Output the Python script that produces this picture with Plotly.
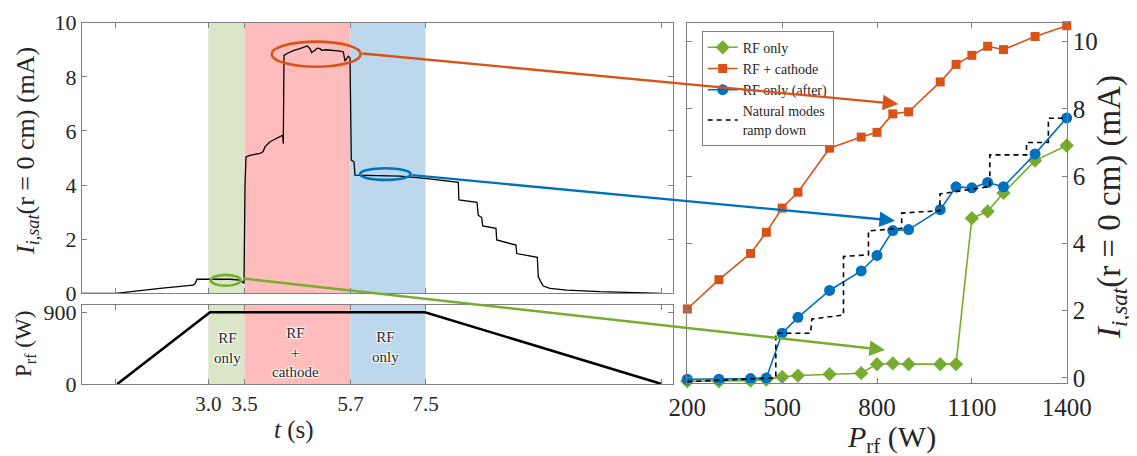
import plotly.graph_objects as go

# page body adds an 8px margin; figure is sized so that it fills the window exactly
OFF = 8
W, H = 1137 - OFF, 456 - OFF
FONT = "Liberation Serif"

# ---------------- left panels (time axis in sample units) ----------------
t_ticks = [33.7, 126.3, 162.5, 268.5, 343.5, 579.7]
t_ticklabels = ["", "3.0", "3.5", "5.7", "7.5", ""]

# shaded phases (start, end on time axis)
phase_start = [126.3, 162.5, 268.5]
phase_end = [162.5, 268.5, 343.5]
phase_color = ["#dbe6c8", "#ffbcbc", "#bdd8ec"]
phase_text = ["RF<br>only", "RF<br>+<br>cathode", "RF<br>only"]

# I_sat time trace (mA)
t_isat = [0, 33.7, 78, 111, 113, 115, 148, 158, 160, 162, 163, 164, 168, 178, 181, 182, 183,
          188, 198, 200.7, 201.3, 202, 206, 212, 218, 225.3, 228, 229.7, 233, 235.3, 238,
          239.7, 244, 251.3, 258, 261.3, 263, 264.7, 266.3, 268, 268.7, 269.3, 272, 273,
          318, 343, 376.3, 376.9, 395, 396.3, 399.7, 400.7, 414, 414.7, 434, 434.7, 455.3,
          456.3, 458.7, 461.3, 468, 484.7, 518, 579.7]
isat = [0.0, 0.0, 0.18, 0.3, 0.35, 0.52, 0.52, 0.49, 0.43, 0.37, 4.0, 5.04, 5.1, 5.17, 5.23,
        5.3, 5.41, 5.6, 5.78, 5.84, 5.53, 8.79, 8.88, 8.98, 9.04, 9.14, 9.04, 8.9, 8.98, 9.06,
        9.04, 8.98, 9.0, 8.98, 8.95, 8.92, 8.58, 8.67, 8.76, 8.7, 6.0, 4.92, 4.86, 4.37,
        4.33, 4.25, 4.1, 3.45, 3.36, 2.88, 2.8, 2.49, 2.4, 1.97, 1.78, 1.47, 1.33,
        0.61, 0.43, 0.27, 0.18, 0.12, 0.06, 0.0]

# RF power waveform (W)
t_prf = [35.3, 128, 343, 579.7]
prf = [0, 900, 900, 0]

# ---------------- right panel ----------------
P_rf_only = [200, 300, 400, 450, 500, 550, 650, 750, 800, 850, 900, 1000, 1050, 1100, 1150, 1200, 1300, 1400]
I_rf_only = [-0.1, -0.1, -0.08, -0.05, 0.03, 0.07, 0.11, 0.14, 0.41, 0.43, 0.41, 0.41, 0.41,
             4.75, 4.95, 5.5, 6.46, 6.91]
P_cath = [200, 300, 400, 450, 500, 550, 650, 750, 800, 850, 900, 1000, 1050, 1100, 1150, 1200, 1300, 1400]
I_cath = [2.05, 2.92, 3.7, 4.33, 5.05, 5.52, 6.83, 7.16, 7.3, 7.85, 7.91, 8.8, 9.32, 9.59,
          9.86, 9.76, 10.15, 10.47]
P_after = [200, 300, 400, 450, 500, 550, 650, 750, 800, 850, 900, 1000, 1050, 1100, 1150, 1200, 1300, 1400]
I_after = [-0.04, -0.04, -0.02, 0.0, 1.33, 1.8, 2.6, 3.18, 3.64, 4.38, 4.41, 5.0, 5.68, 5.65,
           5.81, 5.68, 6.66, 7.73]
P_nat = [200, 472, 480, 480, 590, 594, 694, 694, 773, 773, 878, 878, 999, 999, 1157, 1157,
         1273, 1273, 1342, 1342, 1400]
I_nat = [-0.11, -0.01, 0.0, 1.33, 1.33, 1.75, 1.87, 3.61, 3.66, 4.37, 4.45, 4.9, 4.97, 5.47,
         5.69, 6.63, 6.63, 7.0, 7.0, 7.72, 7.72]

GREEN, ORANGE, BLUE = "#77AC30", "#D95319", "#0072BD"
AX = "#808080"
TXT = "#262626"

fig = go.Figure()
fig.add_trace(go.Scatter(x=t_isat, y=isat, mode="lines", line=dict(color="black", width=1.3),
                         xaxis="x", yaxis="y", showlegend=False))
fig.add_trace(go.Scatter(x=t_prf, y=prf, mode="lines", line=dict(color="black", width=2.6),
                         xaxis="x2", yaxis="y2", showlegend=False))

fig.add_trace(go.Scatter(x=P_rf_only, y=I_rf_only, mode="lines+markers", name="RF only",
                         line=dict(color=GREEN, width=1.6),
                         marker=dict(symbol="diamond", size=11, color=GREEN),
                         xaxis="x3", yaxis="y3", cliponaxis=False))
fig.add_trace(go.Scatter(x=P_cath, y=I_cath, mode="lines+markers", name="RF + cathode",
                         line=dict(color=ORANGE, width=1.6),
                         marker=dict(symbol="square", size=9, color=ORANGE),
                         xaxis="x3", yaxis="y3", cliponaxis=False))
fig.add_trace(go.Scatter(x=P_after, y=I_after, mode="lines+markers", name="RF only (after)",
                         line=dict(color=BLUE, width=1.6),
                         marker=dict(symbol="circle", size=11, color=BLUE),
                         xaxis="x3", yaxis="y3", cliponaxis=False))
fig.add_trace(go.Scatter(x=P_nat, y=I_nat, mode="lines", name="Natural modes<br>ramp down",
                         line=dict(color="black", width=1.6, dash="5px,4px"),
                         xaxis="x3", yaxis="y3"))

def px_x(p):
    return (p - OFF) / W

def px_y(p):
    return 1 - (p - OFF) / H

tickfont_l = dict(family=FONT, size=22, color=TXT)
tickfont_r = dict(family=FONT, size=25, color=TXT)
common = dict(showgrid=False, zeroline=False, showline=True, linecolor=AX, linewidth=1,
              ticks="inside", ticklen=5, tickcolor=AX, mirror="ticks", automargin=False)

left_dom = [px_x(82), px_x(673)]
fig.update_layout(
    template="none",
    width=W, height=H, autosize=False,
    margin=dict(l=0, r=0, t=0, b=0, pad=0),
    paper_bgcolor="white", plot_bgcolor="white",
    font=dict(family=FONT, color=TXT),
    xaxis=dict(domain=left_dom, anchor="y", range=[0, 591], tickvals=t_ticks,
               showticklabels=False, **common),
    yaxis=dict(domain=[px_y(293.3), px_y(22.7)], anchor="x", range=[0, 10],
               tickvals=[0, 2, 4, 6, 8, 10], tickfont=tickfont_l, **common),
    xaxis2=dict(domain=left_dom, anchor="y2", range=[0, 591], tickvals=t_ticks,
                ticktext=t_ticklabels, tickfont=dict(family=FONT, size=21, color=TXT),
                ticklabelstandoff=1, **common),
    yaxis2=dict(domain=[px_y(384), px_y(305)], anchor="x2", range=[0, 991],
                tickvals=[0, 900], tickfont=tickfont_l, **common),
    xaxis3=dict(domain=[px_x(687.3), px_x(1066.7)], anchor="y3", range=[200, 1400],
                tickvals=[200, 500, 800, 1100, 1400], tickfont=tickfont_r,
                ticklabelstandoff=2, **common),
    yaxis3=dict(domain=[px_y(383.3), px_y(22.7)], anchor="x3", side="right",
                range=[-0.16, 10.56], tickvals=[0, 2, 4, 6, 8, 10], tickfont=tickfont_r,
                **common),
    legend=dict(x=px_x(701.7), y=px_y(30.7), xanchor="left", yanchor="top",
                bgcolor="white", bordercolor=AX, borderwidth=1,
                font=dict(family=FONT, size=14, color=TXT), tracegroupgap=0,
                itemwidth=30),
)

shapes = []
for s, e, c in zip(phase_start, phase_end, phase_color):
    for yr in ["y domain", "y2 domain"]:
        shapes.append(dict(type="rect", xref="x", yref=yr, x0=s, x1=e, y0=0, y1=1,
                           fillcolor=c, line=dict(width=0), layer="below"))
# highlight ellipses (time-axis units, mA)
shapes.append(dict(type="circle", xref="x", yref="y", x0=189.7, x1=278.7, y0=8.37, y1=9.30,
                   line=dict(color=ORANGE, width=2.6), layer="above"))
shapes.append(dict(type="circle", xref="x", yref="y", x0=278, x1=328.7, y0=4.19, y1=4.62,
                   line=dict(color=BLUE, width=2.6), layer="above"))
shapes.append(dict(type="circle", xref="x", yref="y", x0=128.7, x1=158.7, y0=0.28, y1=0.68,
                   line=dict(color=GREEN, width=2.6), layer="above"))
fig.update_layout(shapes=shapes)

ann = []
shadow = "1px 1px 1px white, -1px -1px 1px white, 1px -1px 1px white, -1px 1px 1px white"
text_pos = [(145, 448), (213, 399), (303, 468)]
for (xx, yy), t in zip(text_pos, phase_text):
    ann.append(dict(x=xx, y=yy, xref="x2", yref="y2", text=t, showarrow=False,
                    xanchor="center", yanchor="middle",
                    font=dict(family=FONT, size=15, color=TXT, shadow=shadow)))

# arrows from ellipses to right panel (pixel geometry)
arrows = [((360.7, 53.3), (898.3, 104.0), ORANGE),
          ((410.7, 175.0), (895.0, 220.7), BLUE),
          ((241.7, 278.3), (885.0, 350.0), GREEN)]
for (tx, ty), (hx, hy), c in arrows:
    ann.append(dict(x=px_x(hx), y=px_y(hy), xref="paper", yref="paper", text="",
                    showarrow=True, axref="pixel", ayref="pixel", ax=tx - hx, ay=ty - hy,
                    arrowhead=2, arrowsize=1.3, arrowwidth=2.4, arrowcolor=c,
                    standoff=0, startstandoff=0))

# axis titles
titles = [
    (27, 151, -90, "<i>I</i><sub><i>i,sat</i></sub>(r = 0 cm) (mA)", 26),
    (25, 344, -90, "P<sub>rf</sub> (W)", 23),
    (294, 430, 0, "<i>t</i> (s)", 25),
    (891, 439, 0, "<i>P</i><sub>rf</sub> (W)", 30),
    (1111, 207, -90, "<i>I</i><sub><i>i,sat</i></sub>(r = 0 cm) (mA)", 33),
]
for xx, yy, ang, t, sz in titles:
    ann.append(dict(x=px_x(xx), y=px_y(yy), xref="paper", yref="paper", textangle=ang,
                    text=t, showarrow=False, xanchor="center", yanchor="middle",
                    font=dict(family=FONT, size=sz, color=TXT)))
fig.update_layout(annotations=ann)

fig.write_html("out.html")
